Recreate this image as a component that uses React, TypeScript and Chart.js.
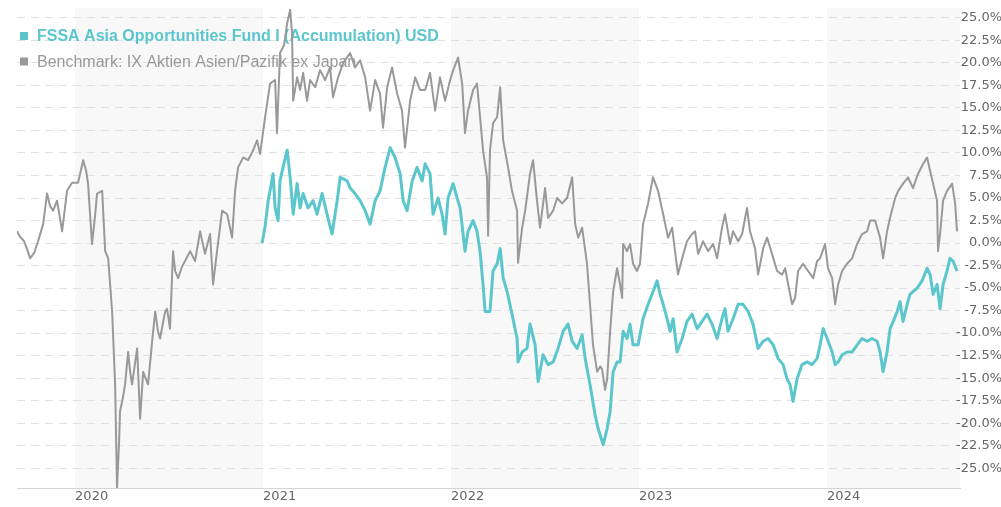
import React, { useEffect, useRef } from 'react';
import { Chart, registerables } from 'chart.js';

Chart.register(...registerables);

const fundName = 'FSSA Asia Opportunities Fund I (Accumulation) USD';
const benchName = 'Benchmark: IX Aktien Asien/Pazifik ex Japan';

const benchDates = [
  2019.691, 2019.707, 2019.729, 2019.745, 2019.761, 2019.782, 2019.803, 2019.830, 2019.851, 2019.867, 2019.883, 2019.904, 2019.931, 2019.957, 2019.984,
  2020.016, 2020.043, 2020.059, 2020.069, 2020.090, 2020.106, 2020.117, 2020.144, 2020.160, 2020.176, 2020.197, 2020.213, 2020.223, 2020.234, 2020.239, 2020.255, 2020.266, 2020.282, 2020.293, 2020.303, 2020.330, 2020.346, 2020.362, 2020.388, 2020.410, 2020.426, 2020.441, 2020.452, 2020.479, 2020.489, 2020.505, 2020.521, 2020.532, 2020.548, 2020.569, 2020.585, 2020.612, 2020.638, 2020.665, 2020.691, 2020.718, 2020.734, 2020.755, 2020.782, 2020.809, 2020.835, 2020.851, 2020.867, 2020.894, 2020.920, 2020.947, 2020.968, 2020.984,
  2021.011, 2021.037, 2021.064, 2021.074, 2021.090, 2021.112, 2021.128, 2021.144, 2021.154, 2021.160, 2021.181, 2021.197, 2021.213, 2021.234, 2021.250, 2021.277, 2021.303, 2021.330, 2021.356, 2021.372, 2021.399, 2021.426, 2021.463, 2021.489, 2021.516, 2021.543, 2021.569, 2021.596, 2021.622, 2021.638, 2021.660, 2021.686, 2021.713, 2021.739, 2021.755, 2021.782, 2021.809, 2021.835, 2021.862, 2021.888, 2021.915, 2021.941, 2021.968, 2021.995,
  2022.011, 2022.037, 2022.059, 2022.074, 2022.090, 2022.117, 2022.138, 2022.154, 2022.170, 2022.191, 2022.197, 2022.207, 2022.223, 2022.245, 2022.261, 2022.277, 2022.303, 2022.324, 2022.351, 2022.356, 2022.378, 2022.394, 2022.420, 2022.436, 2022.457, 2022.473, 2022.500, 2022.516, 2022.543, 2022.564, 2022.590, 2022.617, 2022.644, 2022.660, 2022.676, 2022.697, 2022.723, 2022.739, 2022.755, 2022.777, 2022.793, 2022.803, 2022.819, 2022.830, 2022.846, 2022.862, 2022.883, 2022.899, 2022.910, 2022.915, 2022.936, 2022.952, 2022.968, 2022.989,
  2023.005, 2023.021, 2023.048, 2023.074, 2023.101, 2023.128, 2023.154, 2023.176, 2023.191, 2023.207, 2023.229, 2023.255, 2023.282, 2023.298, 2023.314, 2023.340, 2023.367, 2023.394, 2023.415, 2023.441, 2023.457, 2023.484, 2023.500, 2023.527, 2023.548, 2023.574, 2023.590, 2023.617, 2023.633, 2023.660, 2023.681, 2023.707, 2023.734, 2023.761, 2023.777, 2023.793, 2023.814, 2023.830, 2023.846, 2023.872, 2023.899, 2023.926, 2023.947, 2023.963, 2023.989,
  2024.005, 2024.027, 2024.043, 2024.059, 2024.080, 2024.106, 2024.133, 2024.160, 2024.186, 2024.213, 2024.229, 2024.255, 2024.282, 2024.298, 2024.319, 2024.335, 2024.362, 2024.378, 2024.404, 2024.431, 2024.457, 2024.484, 2024.511, 2024.532, 2024.548, 2024.564, 2024.585, 2024.590, 2024.601, 2024.617, 2024.638, 2024.665, 2024.681, 2024.691,
];

const benchValues = [
  1.3, 0.7, 0.2, -0.7, -1.7, -1.1, 0.2, 2.1, 5.5, 4.1, 3.6, 4.7, 1.3, 5.8, 6.7,
  6.7, 9.2, 8.0, 6.6, -0.1, 3.0, 5.5, 5.8, -0.9, -1.7, -7.6, -15.7, -27.2, -22.1, -18.7, -17.1, -15.7, -12.1, -14.3, -15.7, -11.7, -19.5, -14.3, -15.7, -10.9, -7.6, -9.8, -10.6, -7.6, -7.3, -9.5, -0.9, -3.1, -3.9, -2.6, -2.0, -0.9, -2.0, 1.3, -1.2, 1.0, -4.6, -0.9, 3.6, 3.2, 0.6, 5.8, 8.4, 9.5, 9.2, 10.3, 11.4, 9.9,
  14.0, 17.7, 18.1, 12.2, 21.1, 22.0, 24.4, 25.9, 23.3, 15.8, 18.4, 17.0, 18.9, 15.8, 18.1, 17.3, 19.2, 18.1, 19.5, 16.2, 18.4, 20.0, 21.1, 19.5, 20.3, 18.4, 14.7, 18.1, 16.6, 12.8, 17.3, 19.5, 16.6, 14.7, 10.6, 15.8, 18.4, 17.0, 17.0, 18.9, 14.7, 18.4, 15.8, 18.1,
  19.2, 20.6, 17.7, 12.2, 14.7, 17.0, 17.7, 14.0, 10.3, 7.3, 0.8, 10.3, 13.3, 14.0, 17.3, 11.4, 8.4, 5.8, 3.6, -2.2, 1.7, 3.6, 7.7, 9.2, 4.7, 1.7, 6.1, 2.8, 3.6, 5.0, 4.4, 5.0, 7.3, 2.1, 0.6, 1.7, -2.3, -6.8, -11.3, -14.3, -13.7, -14.0, -16.3, -15.1, -9.8, -5.4, -2.8, -4.6, -6.1, -0.1, -0.9, -0.1, -2.3, -3.1,
  -2.3, 2.1, 4.4, 7.3, 5.8, 3.2, 0.6, 1.7, -0.9, -3.5, -1.7, 0.2, 1.0, 1.3, -1.2, 0.2, -0.9, -0.1, -1.7, 1.7, 3.2, -0.1, 1.3, 0.2, 1.0, 3.9, 1.3, -0.6, -3.5, -0.6, 0.6, -1.2, -3.1, -3.5, -2.8, -4.6, -6.8, -6.1, -3.1, -2.3, -3.1, -3.9, -2.0, -1.7, -0.1,
  -2.8, -3.9, -6.8, -4.6, -3.1, -2.3, -1.7, -0.1, 1.0, 1.3, 2.5, 2.5, 0.6, -1.7, 1.3, 2.8, 5.0, 5.8, 6.6, 7.3, 6.1, 7.7, 8.8, 9.5, 8.0, 6.6, 4.7, -0.9, 1.0, 4.7, 5.8, 6.6, 4.4, 1.3,
];

const fundDates = [
  2020.995,
  2021.011, 2021.027, 2021.037, 2021.053, 2021.064, 2021.080, 2021.090, 2021.106, 2021.128, 2021.144, 2021.160, 2021.181, 2021.197, 2021.213, 2021.239, 2021.266, 2021.287, 2021.314, 2021.340, 2021.367, 2021.394, 2021.410, 2021.447, 2021.463, 2021.489, 2021.516, 2021.543, 2021.569, 2021.596, 2021.622, 2021.649, 2021.676, 2021.702, 2021.729, 2021.745, 2021.766, 2021.793, 2021.819, 2021.846, 2021.862, 2021.888, 2021.904, 2021.931, 2021.952, 2021.968, 2021.984,
  2022.011, 2022.032, 2022.048, 2022.074, 2022.090, 2022.117, 2022.138, 2022.154, 2022.170, 2022.181, 2022.207, 2022.223, 2022.245, 2022.261, 2022.277, 2022.298, 2022.324, 2022.351, 2022.356, 2022.378, 2022.404, 2022.420, 2022.447, 2022.463, 2022.489, 2022.516, 2022.543, 2022.569, 2022.596, 2022.622, 2022.644, 2022.670, 2022.697, 2022.713, 2022.739, 2022.766, 2022.782, 2022.809, 2022.830, 2022.846, 2022.862, 2022.883, 2022.899, 2022.915, 2022.936, 2022.952, 2022.968, 2022.995,
  2023.021, 2023.048, 2023.074, 2023.096, 2023.112, 2023.128, 2023.149, 2023.165, 2023.181, 2023.202, 2023.229, 2023.255, 2023.282, 2023.309, 2023.335, 2023.362, 2023.388, 2023.415, 2023.441, 2023.457, 2023.473, 2023.500, 2023.527, 2023.553, 2023.580, 2023.606, 2023.633, 2023.660, 2023.686, 2023.713, 2023.739, 2023.766, 2023.787, 2023.803, 2023.819, 2023.840, 2023.867, 2023.894, 2023.920, 2023.947, 2023.963, 2023.979,
  2024.000, 2024.027, 2024.043, 2024.059, 2024.080, 2024.106, 2024.133, 2024.160, 2024.186, 2024.213, 2024.239, 2024.266, 2024.282, 2024.298, 2024.319, 2024.335, 2024.352, 2024.373, 2024.388, 2024.404, 2024.426, 2024.441, 2024.457, 2024.479, 2024.505, 2024.532, 2024.548, 2024.564, 2024.585, 2024.601, 2024.617, 2024.638, 2024.654, 2024.670, 2024.691,
];

const fundValues = [
  0.0,
  1.9, 4.7, 5.8, 7.7, 3.9, 2.5, 6.9, 8.4, 10.3, 7.3, 3.2, 6.6, 3.9, 5.5, 3.9, 4.7, 3.2, 5.5, 3.2, 1.0, 4.7, 7.3, 6.9, 6.1, 5.5, 4.7, 3.6, 2.1, 4.7, 5.8, 8.4, 10.6, 9.5, 7.7, 4.7, 3.6, 6.9, 8.4, 6.9, 8.8, 7.7, 3.2, 5.0, 3.2, 1.0, 5.0,
  6.6, 5.0, 3.9, -0.9, 1.3, 2.5, 1.3, -0.9, -4.6, -7.6, -7.6, -3.1, -2.3, -0.6, -3.9, -5.4, -7.9, -10.6, -13.2, -12.1, -11.7, -9.0, -11.3, -15.4, -12.4, -13.5, -13.2, -11.7, -9.8, -9.0, -10.9, -11.7, -10.2, -12.8, -15.7, -19.1, -20.6, -22.4, -20.6, -18.7, -14.3, -13.2, -13.2, -9.8, -10.6, -9.0, -11.3, -11.3,
  -8.4, -6.8, -5.4, -4.2, -5.7, -6.8, -8.4, -9.8, -8.4, -12.1, -10.6, -8.7, -7.9, -9.5, -8.7, -7.9, -9.0, -10.6, -8.4, -7.3, -9.8, -8.4, -6.8, -6.8, -7.6, -9.0, -11.7, -10.9, -10.6, -11.3, -12.8, -13.5, -15.1, -15.7, -17.6, -15.1, -13.5, -13.2, -13.5, -12.8, -11.3, -9.5,
  -10.6, -12.1, -13.5, -13.2, -12.4, -12.1, -12.1, -11.3, -10.6, -10.9, -10.6, -10.9, -12.1, -14.3, -12.1, -9.5, -8.7, -7.6, -6.5, -8.7, -6.8, -5.7, -5.4, -5.0, -4.2, -2.8, -3.5, -5.7, -4.6, -7.3, -4.6, -3.1, -1.7, -2.0, -3.1,
];

const yearTicks = [2020, 2021, 2022, 2023, 2024];
const shadedYears = [2020, 2022, 2024];
const percentTicks = [-25, -22.5, -20, -17.5, -15, -12.5, -10, -7.5, -5, -2.5, 0, 2.5, 5, 7.5, 10, 12.5, 15, 17.5, 20, 22.5, 25];

const X_MIN = 2019.691;
const X_MAX = 2024.707;
const Y_MIN = -27.2;
const Y_MAX = 26.1;

const FUND_COLOR = '#5bc6cc';
const BENCH_COLOR = '#999999';
const AXIS_FONT = '13px "DejaVu Sans", Verdana, sans-serif';

const formatPercent = (v: number) => v.toFixed(1) + '%';

const bandPlugin = {
  id: 'yearBands',
  beforeDraw(chart: any) {
    const { ctx, chartArea, scales } = chart;
    const x = scales.x;
    ctx.save();
    ctx.fillStyle = '#f8f8f8';
    shadedYears.forEach((yr) => {
      const x0 = Math.max(x.getPixelForValue(yr), chartArea.left);
      const x1 = Math.min(x.getPixelForValue(yr + 1), chartArea.right);
      if (x1 > x0) ctx.fillRect(x0, chartArea.top, x1 - x0, chartArea.bottom - chartArea.top);
    });
    ctx.restore();
  },
};

const legendPlugin = {
  id: 'innerLegend',
  beforeDatasetsDraw(chart: any) {
    const { ctx } = chart;
    const items = chart.data.datasets;
    ctx.save();
    ctx.textBaseline = 'alphabetic';
    ctx.textAlign = 'left';
    items.forEach((ds: any, i: number) => {
      const baseline = 41 + i * 25.5;
      ctx.fillStyle = ds.borderColor;
      ctx.fillRect(20, baseline - 9, 8, 8);
      ctx.font = (i === 0 ? 'bold ' : '') + '16px "Liberation Sans", Arial, sans-serif';
      ctx.fillText(ds.label, 37, baseline);
    });
    ctx.restore();
  },
};

const yLabelPlugin = {
  id: 'yLabels',
  afterDraw(chart: any) {
    const { ctx, scales } = chart;
    const y = scales.y;
    ctx.save();
    ctx.font = AXIS_FONT;
    ctx.fillStyle = '#666666';
    ctx.textAlign = 'right';
    ctx.textBaseline = 'middle';
    y.ticks.forEach((t: any) => {
      ctx.fillText(formatPercent(t.value), chart.width + 1, y.getPixelForValue(t.value));
    });
    ctx.restore();
  },
};

export default function App() {
  const canvasRef = useRef<HTMLCanvasElement | null>(null);

  useEffect(() => {
    document.body.style.margin = '0';
    const canvas = canvasRef.current;
    if (!canvas) return;
    const chart = new Chart(canvas, {
      type: 'line',
      data: {
        datasets: [
          {
            label: fundName,
            data: fundDates.map((d, i) => ({ x: d, y: fundValues[i] })),
            borderColor: FUND_COLOR,
            backgroundColor: FUND_COLOR,
            borderWidth: 3,
            pointRadius: 0,
            tension: 0,
            borderJoinStyle: 'round',
          },
          {
            label: benchName,
            data: benchDates.map((d, i) => ({ x: d, y: benchValues[i] })),
            borderColor: BENCH_COLOR,
            backgroundColor: BENCH_COLOR,
            borderWidth: 2,
            pointRadius: 0,
            tension: 0,
            borderJoinStyle: 'round',
          },
        ],
      },
      options: {
        responsive: false,
        animation: false,
        layout: { padding: { left: 17, top: 8, right: 0, bottom: 0 } },
        plugins: {
          legend: { display: false },
          tooltip: { enabled: false },
        },
        scales: {
          x: {
            type: 'linear',
            position: 'bottom',
            min: X_MIN,
            max: X_MAX,
            grid: { display: false, drawTicks: false },
            border: { display: true, color: '#d4d4d4', width: 1 },
            afterBuildTicks: (scale: any) => {
              scale.ticks = yearTicks.map((v) => ({ value: v }));
            },
            afterFit: (scale: any) => {
              scale.height = 19;
            },
            ticks: {
              align: 'start',
              padding: 1,
              maxRotation: 0,
              autoSkip: false,
              color: '#666666',
              font: { family: '"DejaVu Sans", Verdana, sans-serif', size: 13 },
              callback: (v: any) => String(v),
            },
          },
          y: {
            type: 'linear',
            position: 'right',
            min: Y_MIN,
            max: Y_MAX,
            afterBuildTicks: (scale: any) => {
              scale.ticks = percentTicks.map((v) => ({ value: v }));
            },
            afterFit: (scale: any) => {
              scale.width = 41;
            },
            grid: { color: '#e0e0e0', lineWidth: 1, drawTicks: false },
            border: { display: false, dash: [8, 6] },
            ticks: {
              display: false,
              callback: (v: any) => formatPercent(Number(v)),
            },
          },
        },
      } as any,
      plugins: [bandPlugin, legendPlugin, yLabelPlugin],
    });
    return () => chart.destroy();
  }, []);

  return (
    <div style={{ width: 1001, height: 507 }}>
      <canvas ref={canvasRef} width={1001} height={507} style={{ display: 'block' }} />
    </div>
  );
}
